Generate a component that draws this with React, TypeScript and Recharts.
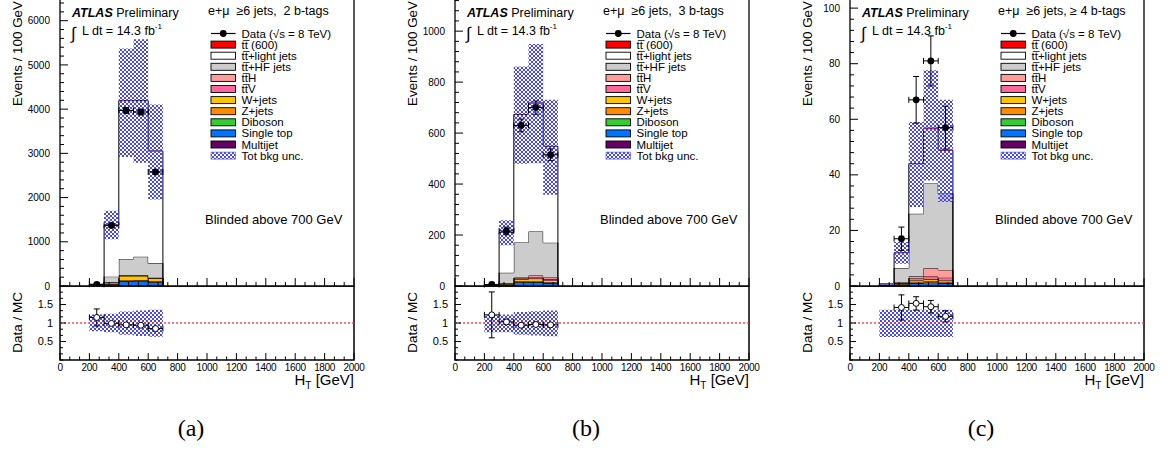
import React from 'react';
import { ComposedChart, Area, Scatter, XAxis, YAxis, ErrorBar, ReferenceLine, ReferenceArea } from 'recharts';

// ---------------- data ----------------
const BIN_LOW_EDGES = [200, 300, 400, 500, 600];
const LAST_BIN_HIGH_EDGE = 700;
const BIN_HALF_WIDTH = 50;

const X_MAJOR_TICKS = [0, 200, 400, 600, 800, 1000, 1200, 1400, 1600, 1800, 2000];
const RATIO_MAJOR_TICKS = [0.5, 1, 1.5];
const Y_MAJOR_TICKS_A = [0, 1000, 2000, 3000, 4000, 5000, 6000];
const Y_MAJOR_TICKS_B = [0, 200, 400, 600, 800, 1000];
const Y_MAJOR_TICKS_C = [0, 20, 40, 60, 80, 100];

// Panel (a): e+mu >=6 jets, 2 b-tags  (bins 200-300 ... 600-700 GeV)
const multijetA = [1, 5, 8, 8, 6];
const singleTopA = [4, 35, 100, 95, 75];
const dibosonA = [0.3, 2, 5, 5, 4];
const zjetsA = [2, 10, 25, 25, 20];
const wjetsA = [3, 25, 90, 95, 70];
const ttVA = [0.2, 3, 8, 8, 7];
const ttHA = [0.1, 2, 6, 7, 6];
const ttHFA = [4, 130, 370, 420, 325];
const ttLightA = [22, 1170, 3580, 3530, 2540];
const signalA = [0, 1, 3, 4, 3];
const uncLoA = [28, 1057, 2920, 2785, 1955];
const uncHiA = [46, 1700, 5370, 5580, 4105];
const dataXA = [250, 350, 450, 550, 650];
const dataA = [38, 1370, 3970, 3935, 2580];
const dataErrA = [6, 37, 63, 63, 51];
const ratioXA = [250, 350, 450, 550, 650];
const ratioA = [1.15, 0.99, 0.95, 0.94, 0.85];
const ratioErrA = [0.23, 0.03, 0.02, 0.02, 0.02];
const ratioBandLoA = [0.78, 0.75, 0.68, 0.65, 0.63];
const ratioBandHiA = [1.23, 1.25, 1.31, 1.34, 1.36];

// Panel (b): e+mu >=6 jets, 3 b-tags
const multijetB = [0.05, 0.5, 1, 1, 1];
const singleTopB = [0.8, 4, 13, 14, 10];
const dibosonB = [0.02, 0.2, 0.5, 0.5, 0.5];
const zjetsB = [0.3, 2, 4, 4.5, 3.5];
const wjetsB = [0.4, 3, 8, 9, 7];
const ttVB = [0.05, 0.5, 2.5, 4, 4];
const ttHB = [0.05, 0.8, 4, 8, 7];
const ttHFB = [0.8, 41, 138, 173, 137];
const ttLightB = [2.4, 158, 502, 504, 378];
const signalB = [0, 0.2, 0.8, 1.2, 1];
const uncLoB = [3.8, 160, 480, 482, 358];
const uncHiB = [6.0, 258, 861, 950, 731];
const dataXB = [250, 350, 450, 550, 650];
const dataB = [6, 216, 630, 700, 515];
const dataErrB = [2.4, 15, 25, 26, 23];
const ratioXB = [250, 350, 450, 550, 650];
const ratioB = [1.22, 1.03, 0.94, 0.96, 0.95];
const ratioErrB = [0.62, 0.07, 0.04, 0.04, 0.045];
const ratioBandLoB = [0.75, 0.75, 0.68, 0.66, 0.64];
const ratioBandHiB = [1.21, 1.23, 1.3, 1.32, 1.34];

// Panel (c): e+mu >=6 jets, >=4 b-tags
const multijetC = [0.01, 0.05, 0.05, 0.05, 0.05];
const singleTopC = [0.1, 0.4, 1.0, 1.2, 1.0];
const dibosonC = [0.01, 0.02, 0.05, 0.05, 0.05];
const zjetsC = [0.05, 0.2, 0.4, 0.4, 0.4];
const wjetsC = [0.05, 0.3, 0.6, 0.7, 0.6];
const ttVC = [0.02, 0.1, 0.6, 1.0, 0.9];
const ttHC = [0.02, 0.2, 0.8, 3.0, 2.8];
const ttHFC = [0.2, 5.2, 22.5, 30.5, 27.5];
const ttLightC = [0.3, 5.5, 18, 19.7, 15.5];
const signalC = [0, 0.05, 0.2, 0.4, 0.3];
const uncLoC = [0.47, 8.0, 28.4, 38, 30.2];
const uncHiC = [1.04, 15.8, 59, 77.6, 67];
const dataXC = [350, 450, 550, 650];
const dataC = [17, 67, 81, 57];
const dataErrC = [4.2, 8.4, 9, 7.7];
const ratioXC = [350, 450, 550, 650];
const ratioC = [1.42, 1.53, 1.44, 1.18];
const ratioErrC = [0.34, 0.18, 0.17, 0.15];
const ratioBandLoC = [0.62, 0.62, 0.62, 0.62, 0.62];
const ratioBandHiC = [1.36, 1.36, 1.36, 1.36, 1.36];

// stack order bottom -> top
const COMPONENT_KEYS = ['multijet', 'singleTop', 'diboson', 'zjets', 'wjets', 'ttV', 'ttH', 'ttHF', 'ttLight', 'signal'];
const TT = 't\u0074\u0305';
const COMPONENT_LABELS: Record<string, string> = {
  signal: TT + ' (600)',
  ttLight: TT + '+light jets',
  ttHF: TT + '+HF jets',
  ttH: TT + 'H',
  ttV: TT + 'V',
  wjets: 'W+jets',
  zjets: 'Z+jets',
  diboson: 'Diboson',
  singleTop: 'Single top',
  multijet: 'Multijet',
};
const LEGEND_ORDER = ['signal', 'ttLight', 'ttHF', 'ttH', 'ttV', 'wjets', 'zjets', 'diboson', 'singleTop', 'multijet'];

// ---------------- styles ----------------
const FONT = '"Liberation Sans", Arial, Helvetica, sans-serif';
const COMPONENT_FILL: Record<string, string> = {
  multijet: '#660066',
  singleTop: '#0073ff',
  diboson: '#33cc33',
  zjets: '#ff8c00',
  wjets: '#ffc400',
  ttV: '#ff6699',
  ttH: '#ff9d9d',
  ttHF: '#cccccc',
  ttLight: '#ffffff',
  signal: '#ff0000',
};
const HATCH_BLUE = '#4646f2';

const PANELS = [
  {
    key: 'a', offset: 0, yMax: 6536, yMajor: Y_MAJOR_TICKS_A, yMinorStep: 200,
    comps: { multijet: multijetA, singleTop: singleTopA, diboson: dibosonA, zjets: zjetsA, wjets: wjetsA, ttV: ttVA, ttH: ttHA, ttHF: ttHFA, ttLight: ttLightA, signal: signalA } as Record<string, number[]>,
    uncLo: uncLoA, uncHi: uncHiA, dataX: dataXA, data: dataA, dataErr: dataErrA,
    ratioX: ratioXA, ratio: ratioA, ratioErr: ratioErrA, ratioLo: ratioBandLoA, ratioHi: ratioBandHiA,
    channel: 'e+\u03bc  \u22656 jets,  2 b-tags', letter: '(a)',
  },
  {
    key: 'b', offset: 395, yMax: 1134, yMajor: Y_MAJOR_TICKS_B, yMinorStep: 40,
    comps: { multijet: multijetB, singleTop: singleTopB, diboson: dibosonB, zjets: zjetsB, wjets: wjetsB, ttV: ttVB, ttH: ttHB, ttHF: ttHFB, ttLight: ttLightB, signal: signalB } as Record<string, number[]>,
    uncLo: uncLoB, uncHi: uncHiB, dataX: dataXB, data: dataB, dataErr: dataErrB,
    ratioX: ratioXB, ratio: ratioB, ratioErr: ratioErrB, ratioLo: ratioBandLoB, ratioHi: ratioBandHiB,
    channel: 'e+\u03bc  \u22656 jets,  3 b-tags', letter: '(b)',
  },
  {
    key: 'c', offset: 790, yMax: 104.0, yMajor: Y_MAJOR_TICKS_C, yMinorStep: 4,
    comps: { multijet: multijetC, singleTop: singleTopC, diboson: dibosonC, zjets: zjetsC, wjets: wjetsC, ttV: ttVC, ttH: ttHC, ttHF: ttHFC, ttLight: ttLightC, signal: signalC } as Record<string, number[]>,
    uncLo: uncLoC, uncHi: uncHiC, dataX: dataXC, data: dataC, dataErr: dataErrC,
    ratioX: ratioXC, ratio: ratioC, ratioErr: ratioErrC, ratioLo: ratioBandLoC, ratioHi: ratioBandHiC,
    channel: 'e+\u03bc  \u22656 jets, \u2265 4 b-tags', letter: '(c)',
  },
];

// ---------------- helpers ----------------
function withMinors(majors: number[], step: number, max: number) {
  const out: number[] = [];
  const n = Math.floor(max / step + 1e-9);
  for (let i = 0; i <= n; i++) out.push(Math.round(i * step * 1e6) / 1e6);
  majors.forEach((m) => { if (!out.some((v) => Math.abs(v - m) < 1e-6)) out.push(m); });
  return out.sort((a, b) => a - b);
}
const isMajor = (majors: number[], v: number) => majors.some((m) => Math.abs(m - v) < 1e-6);
const fmt = (v: number) => String(Math.round(v * 1000) / 1000);

function buildStackRows(comps: Record<string, number[]>, lo: number[], hi: number[]) {
  const rows: any[] = [];
  const zero: any = {};
  COMPONENT_KEYS.forEach((k) => { zero[k] = 0; });
  rows.push({ x: BIN_LOW_EDGES[0], ...zero, band: [lo[0], hi[0]] });
  BIN_LOW_EDGES.forEach((x, i) => {
    const r: any = { x, band: [lo[i], hi[i]] };
    COMPONENT_KEYS.forEach((k) => { r[k] = comps[k][i]; });
    rows.push(r);
  });
  const n = BIN_LOW_EDGES.length - 1;
  rows.push({ x: LAST_BIN_HIGH_EDGE, ...zero, band: [lo[n], hi[n]] });
  return rows;
}
function buildBandRows(lo: number[], hi: number[]) {
  const rows: any[] = BIN_LOW_EDGES.map((x, i) => ({ x, band: [lo[i], hi[i]] }));
  const n = BIN_LOW_EDGES.length - 1;
  rows.push({ x: LAST_BIN_HIGH_EDGE, band: [lo[n], hi[n]] });
  return rows;
}

const makeYTick = (majors: number[], majorLen: number, minorLen: number, gap: number, fs: number) => (props: any) => {
  const { x, y, payload } = props;
  const v = payload.value;
  const mj = isMajor(majors, v);
  return (
    <g>
      <line x1={x} y1={y} x2={x + (mj ? majorLen : minorLen)} y2={y} stroke="#000" strokeWidth={1} />
      {mj ? (
        <text x={x - gap} y={y} dy="0.36em" textAnchor="end" fontSize={fs} fill="#000" fontFamily={FONT}>{fmt(v)}</text>
      ) : null}
    </g>
  );
};
const makeXTick = (majors: number[], majorLen: number, minorLen: number, showLabel: boolean, fs: number) => (props: any) => {
  const { x, y, payload } = props;
  const v = payload.value;
  const mj = isMajor(majors, v);
  return (
    <g>
      <line x1={x} y1={y} x2={x} y2={y - (mj ? majorLen : minorLen)} stroke="#000" strokeWidth={1} />
      {mj && showLabel ? (
        <text x={x} y={y + 10.5} textAnchor="middle" fontSize={fs} letterSpacing={-0.35} fill="#000" fontFamily={FONT}>{fmt(v)}</text>
      ) : null}
    </g>
  );
};

const FilledDot = (p: any) => <circle cx={p.cx} cy={p.cy} r={3.4} fill="#000" />;
const OpenDot = (p: any) => <circle cx={p.cx} cy={p.cy} r={3} fill="#fff" stroke="#000" strokeWidth={1} />;

function Hatch({ id }: { id: string }) {
  return (
    <pattern id={id} width={4} height={4} patternUnits="userSpaceOnUse">
      <rect x={0} y={0} width={2} height={2} fill={HATCH_BLUE} />
      <rect x={2} y={2} width={2} height={2} fill={HATCH_BLUE} />
    </pattern>
  );
}

const X_TICKS = withMinors(X_MAJOR_TICKS, 200 / 3, 2000);
const RATIO_Y_TICKS = withMinors(RATIO_MAJOR_TICKS, 0.5 / 3, 1.99);

function MainChart({ p }: { p: any }) {
  const rows = buildStackRows(p.comps, p.uncLo, p.uncHi);
  const points = p.dataX.map((x: number, i: number) => ({ x, y: p.data[i], ey: p.dataErr[i], ex: BIN_HALF_WIDTH }));
  const yTicks = withMinors(p.yMajor, p.yMinorStep, p.yMax);
  const hid = `hatch-main-${p.key}`;
  return (
    <ComposedChart width={395} height={295} data={rows} margin={{ top: 0, right: 41, bottom: 0, left: 0 }}>
      <defs><Hatch id={hid} /></defs>
      <XAxis xAxisId="x" dataKey="x" type="number" domain={[0, 2000]} ticks={X_TICKS} interval={0}
        allowDataOverflow height={6} axisLine={false} tickLine={false} tickSize={0} tickMargin={0}
        tick={makeXTick(X_MAJOR_TICKS, 8, 4, false, 10)} />
      <YAxis yAxisId="y" type="number" domain={[0, p.yMax]} ticks={yTicks} interval={0}
        allowDataOverflow width={60} axisLine={false} tickLine={false} tickSize={0} tickMargin={0}
        tick={makeYTick(p.yMajor, 8, 4, 10, 10)} />
      {COMPONENT_KEYS.map((k) => (
        <Area key={k} xAxisId="x" yAxisId="y" dataKey={k} stackId="stack" type="stepAfter"
          fill={COMPONENT_FILL[k]} fillOpacity={1} stroke={k === 'signal' ? 'none' : '#000'} strokeWidth={1}
          isAnimationActive={false} dot={false} activeDot={false} />
      ))}
      <Area xAxisId="x" yAxisId="y" dataKey="band" type="stepAfter" fill={`url(#${hid})`} fillOpacity={1}
        stroke="none" isAnimationActive={false} dot={false} activeDot={false} />
      <Scatter xAxisId="x" yAxisId="y" data={points} dataKey="y" shape={FilledDot} isAnimationActive={false}>
        <ErrorBar dataKey="ey" direction="y" width={3} stroke="#000" strokeWidth={1} />
        <ErrorBar dataKey="ex" direction="x" width={3} stroke="#000" strokeWidth={1} />
      </Scatter>
      <ReferenceArea xAxisId="x" yAxisId="y" x1={0} x2={2000} y1={0} y2={p.yMax} fill="none" fillOpacity={0}
        stroke="#000" strokeWidth={1.3} ifOverflow="visible" />
    </ComposedChart>
  );
}

function RatioChart({ p }: { p: any }) {
  const rows = buildBandRows(p.ratioLo, p.ratioHi);
  const points = p.ratioX.map((x: number, i: number) => ({ x, y: p.ratio[i], ey: p.ratioErr[i], ex: BIN_HALF_WIDTH }));
  const hid = `hatch-ratio-${p.key}`;
  return (
    <ComposedChart width={395} height={95} data={rows} margin={{ top: 0, right: 41, bottom: 0, left: 0 }}>
      <defs><Hatch id={hid} /></defs>
      <XAxis xAxisId="x" dataKey="x" type="number" domain={[0, 2000]} ticks={X_TICKS} interval={0}
        allowDataOverflow height={21} axisLine={false} tickLine={false} tickSize={0} tickMargin={0}
        tick={makeXTick(X_MAJOR_TICKS, 7, 3.5, true, 10)} />
      <YAxis yAxisId="y" type="number" domain={[0, 2]} ticks={RATIO_Y_TICKS} interval={0}
        allowDataOverflow width={60} axisLine={false} tickLine={false} tickSize={0} tickMargin={0}
        tick={makeYTick(RATIO_MAJOR_TICKS, 6, 3, 7, 11)} />
      <Area xAxisId="x" yAxisId="y" dataKey="band" type="stepAfter" fill={`url(#${hid})`} fillOpacity={1}
        stroke="none" isAnimationActive={false} dot={false} activeDot={false} />
      <ReferenceLine xAxisId="x" yAxisId="y" y={1} stroke="#ff3030" strokeWidth={1.4} strokeDasharray="2 2" strokeOpacity={0.85} />
      <Scatter xAxisId="x" yAxisId="y" data={points} dataKey="y" shape={OpenDot} isAnimationActive={false}>
        <ErrorBar dataKey="ey" direction="y" width={3} stroke="#000" strokeWidth={1} />
        <ErrorBar dataKey="ex" direction="x" width={3} stroke="#000" strokeWidth={1} />
      </Scatter>
      <ReferenceArea xAxisId="x" yAxisId="y" x1={0} x2={2000} y1={0} y2={2} fill="none" fillOpacity={0}
        stroke="#000" strokeWidth={1.5} ifOverflow="visible" />
    </ComposedChart>
  );
}

function Annotations({ p }: { p: any }) {
  const hid = `hatch-leg-${p.key}`;
  const y0 = 33.5;
  const dy = 11.1;
  const bx = 211;
  const bw = 24.5;
  const tx = 241.5;
  const fs = 11.5;
  return (
    <svg width={395} height={453} style={{ position: 'absolute', left: p.offset, top: 0, overflow: 'visible' }} fontFamily={FONT}>
      <defs><Hatch id={hid} /></defs>
      <text x={72} y={17} fontSize={12.5} fill="#000">
        <tspan fontWeight="bold" fontStyle="italic">ATLAS</tspan> Preliminary
      </text>
      <text x={71} y={38.5} fontSize={17} fill="#000">{'\u222b'}</text>
      <text x={82} y={35} fontSize={12.5} fill="#000">
        L dt = 14.3 fb<tspan fontSize={8} dy={-6}>-1</tspan>
      </text>
      <text x={208} y={15} fontSize={12.5} fill="#000" xmlSpace="preserve" style={{ whiteSpace: 'pre' }}>{p.channel}</text>

      <line x1={bx} x2={bx + bw} y1={y0} y2={y0} stroke="#000" strokeWidth={1.2} />
      <circle cx={bx + bw / 2} cy={y0} r={3.4} fill="#000" />
      <text x={tx} y={y0 + 4} fontSize={fs} fill="#000">Data ({'\u221a'}s = 8 TeV)</text>
      {LEGEND_ORDER.map((k, i) => {
        const y = y0 + (i + 1) * dy;
        return (
          <g key={k}>
            <rect x={bx} y={y - 3.5} width={bw} height={7} fill={COMPONENT_FILL[k]} stroke="#000" strokeWidth={0.9} />
            <text x={tx} y={y + 4} fontSize={fs} fill="#000">{COMPONENT_LABELS[k]}</text>
          </g>
        );
      })}
      <rect x={bx} y={y0 + 11 * dy - 3.5} width={bw} height={7} fill={`url(#${hid})`} stroke={HATCH_BLUE} strokeWidth={0.6} />
      <text x={tx} y={y0 + 11 * dy + 4} fontSize={fs} fill="#000">Tot bkg unc.</text>

      <text x={205} y={224} fontSize={13} fill="#000">Blinded above 700 GeV</text>

      <text transform="translate(22,106) rotate(-90)" textAnchor="start" fontSize={13.4} fill="#000">Events / 100 GeV</text>
      <text transform="translate(22,292) rotate(-90)" textAnchor="end" fontSize={13.5} fill="#000">Data / MC</text>
      <text x={354} y={385} textAnchor="end" fontSize={15} fill="#000">
        H<tspan fontSize={10} dy={3.5}>T</tspan><tspan dy={-3.5}> [GeV]</tspan>
      </text>
      <text x={191} y={435.5} textAnchor="middle" fontSize={24} fill="#000" fontFamily='"Liberation Serif", "Times New Roman", serif'>{p.letter}</text>
    </svg>
  );
}

export default function App() {
  return (
    <div style={{ position: 'fixed', left: 0, top: 0, width: 1168, height: 453, overflow: 'hidden', background: '#fff', fontFamily: FONT }}>
      {PANELS.map((p) => (
        <React.Fragment key={p.key}>
          <div style={{ position: 'absolute', left: p.offset, top: -3 }}><MainChart p={p} /></div>
          <div style={{ position: 'absolute', left: p.offset, top: 286 }}><RatioChart p={p} /></div>
          <Annotations p={p} />
        </React.Fragment>
      ))}
    </div>
  );
}
